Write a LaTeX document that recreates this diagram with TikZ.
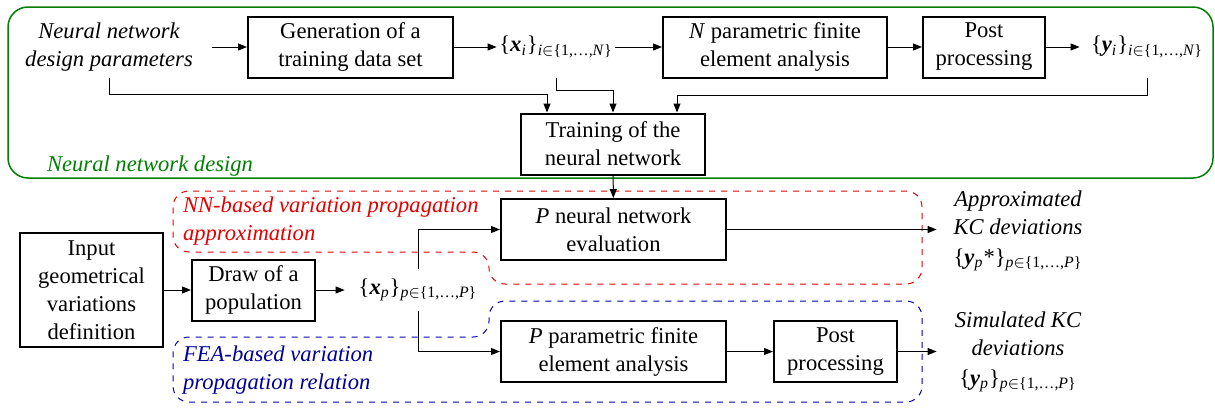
\documentclass[tikz,border=0pt]{standalone}
\usepackage{fontspec}
\setmainfont{Liberation Serif}
\usetikzlibrary{arrows.meta}
\newcommand{\figfont}{\fontsize{11.3}{14}\selectfont}
% {v_k}_{k in {1,...,K}}
\newcommand{\setidx}[4]{\{\textbf{\textit{#1}}\textsubscript{\textit{#2}}#4\}\textsubscript{\textit{#2}$\in$\{1,…,\textit{#3}\}}}
\tikzset{
  block/.style={draw,line width=1pt,minimum height=30.5pt,inner sep=0pt,align=center},
  txt/.style={align=center,inner sep=0pt,minimum height=31pt},
  flow/.style={-{Triangle[length=4.5pt,width=3.5pt]},line width=0.5pt},
  region/.style={dashed,line width=0.5pt,rounded corners=8pt},
}
\begin{document}
\begin{tikzpicture}[x=0.5pt,y=-0.5pt,font=\figfont]
    \useasboundingbox (0,0) rectangle (1215,407);
    % neural network design frame
    \draw[green!50!black,line width=0.75pt,rounded corners=10pt] (8,7) rectangle (1213,178);
    \node[anchor=west,green!50!black,font=\figfont\itshape] (NNDlab) at (40,166) {Neural network design};
    % variation propagation regions
    \draw[region,red!90!black] (700,284) -- (922,284) -- (922,191) -- (173,191) -- (173,252) -- (489,252) -- (489,284) -- cycle;
    \draw[region,blue!70!black] (700,301) -- (922,301) -- (922,402) -- (173,402) -- (173,337) -- (489,337) -- (489,301) -- cycle;
    \node[anchor=west,align=left,red!90!black,font=\figfont\itshape] (NNlab) at (176,221.5) {NN-based variation propagation\\approximation};
    \node[anchor=west,align=left,blue!60!black,font=\figfont\itshape] (FEAlab) at (176,370) {FEA-based variation\\propagation relation};
    % top row
    \node[txt,minimum width=103pt,font=\figfont\itshape] (NNDP) at (109,47) {Neural network\\design parameters};
    \node[block,minimum width=102.5pt] (Gen) at (350.5,47) {Generation of a\\training data set};
    \node[txt,minimum width=59pt] (Xi) at (556,47) {\setidx{x}{i}{N}{}};
    \node[block,minimum width=112pt] (NFEA) at (775,47) {\textit{N} parametric finite\\element analysis};
    \node[block,minimum width=61pt] (Post) at (984,47) {Post\\processing};
    \node[txt,minimum width=67pt] (Yi) at (1147,47) {\setidx{y}{i}{N}{}};
    \node[block,minimum width=92pt] (Train) at (613,144) {Training of the\\neural network};
    \draw[flow] (NNDP) -- (Gen);
    \draw[flow] (Gen) -- (Xi);
    \draw[flow] (Xi) -- (NFEA);
    \draw[flow] (NFEA) -- (Post);
    \draw[flow] (Post) -- (Yi);
    \draw[flow] (NNDP.south) -- ++(0,16) -| ([xshift=-33pt]Train.north);
    \draw[flow] (Xi.south) -- ++(0,12) -| (Train.north);
    \draw[flow] (Yi.south) -- ++(0,17) -| ([xshift=32pt]Train.north);
    % bottom part
    \node[block,minimum width=71.5pt,minimum height=57pt] (Input) at (91.5,290) {Input\\geometrical\\variations\\definition};
    \node[block,minimum width=61.5pt] (Draw) at (253.5,290) {Draw of a\\population};
    \node[txt,minimum height=21pt,minimum width=73pt] (Xp) at (418,290) {\setidx{x}{p}{P}{}};
    \node[block,minimum width=112.5pt] (NNEval) at (613.5,229.5) {\textit{P} neural network\\evaluation};
    \node[block,minimum width=112.5pt] (PFEA) at (613.5,351.5) {\textit{P} parametric finite\\element analysis};
    \node[block,minimum width=61.5pt] (PPost) at (835.5,351.5) {Post\\processing};
    \node[txt,minimum width=81pt,font=\figfont\itshape] (Approx) at (1018,231) {Approximated\\KC deviations\\[1pt]\upshape\setidx{y}{p}{P}{*}};
    \node[txt,minimum width=81pt,font=\figfont\itshape] (Simul) at (1018,352) {Simulated KC\\deviations\\[1pt]\upshape\setidx{y}{p}{P}{}};
    \draw[flow] (Train) -- (NNEval);
    \draw[flow] (Input) -- (Draw);
    \draw[flow] (Draw) -- (Xp);
    \draw[flow] (Xp.north) |- (NNEval);
    \draw[flow] (Xp.south) |- (PFEA);
    \draw[flow] (NNEval) -- (NNEval -| Approx.west);
    \draw[flow] (PFEA) -- (PPost);
    \draw[flow] (PPost) -- (PPost -| Simul.west);
\end{tikzpicture}
\end{document}
